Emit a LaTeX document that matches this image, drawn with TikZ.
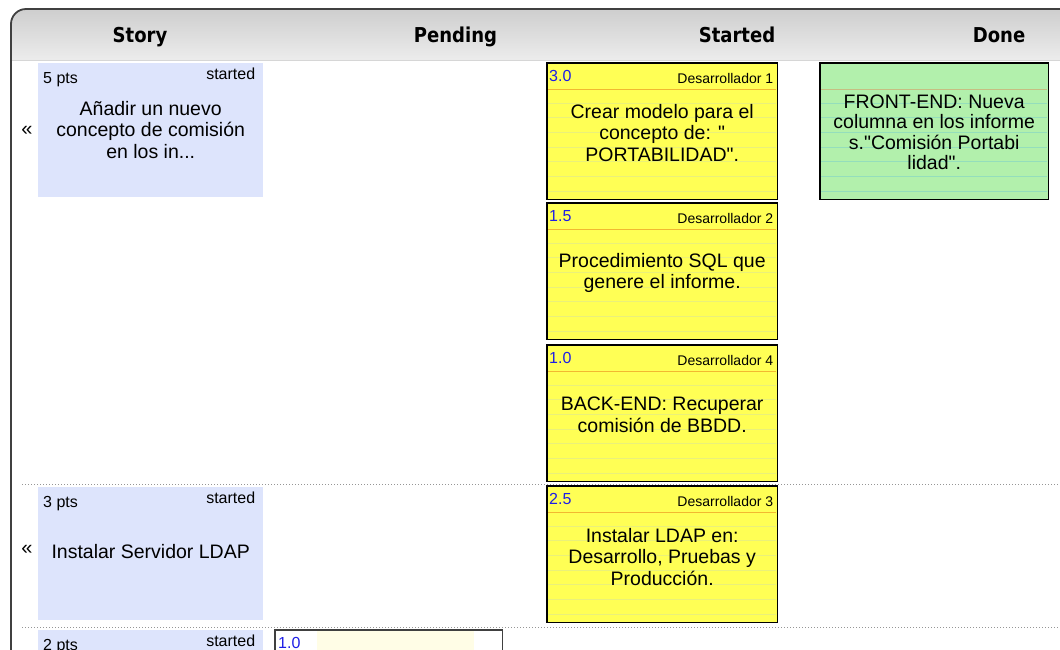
\documentclass[tikz,border=0pt]{standalone}
\usepackage{fontspec}
\setmainfont{Liberation Sans}[Ligatures=TeXOff]
\newfontfamily\hdfont{DejaVu Sans}[FakeStretch=0.88]
\usetikzlibrary{calc}

\definecolor{storyblue}{RGB}{221,228,252}
\definecolor{taskyellow}{RGB}{255,255,85}
\definecolor{donegreen}{RGB}{178,240,172}
\definecolor{yrule}{RGB}{234,240,122}
\definecolor{grule}{RGB}{148,222,188}
\definecolor{hdrule}{RGB}{242,184,48}
\definecolor{ghdrule}{RGB}{198,190,130}
\definecolor{ptsblue}{RGB}{30,30,230}
\definecolor{pendcream}{RGB}{255,253,230}
\definecolor{framegray}{RGB}{64,64,64}
\definecolor{hdtop}{RGB}{206,206,206}
\definecolor{hdbot}{RGB}{236,236,236}
\definecolor{sepgray}{RGB}{150,150,150}

\tikzset{
  bodytext/.style={font=\fontsize{19.5}{21.5}\selectfont, align=center, inner sep=0pt},
  smalltext/.style={font=\fontsize{16}{18}\selectfont, inner sep=0pt},
  ownertext/.style={font=\fontsize{14}{16}\selectfont, inner sep=0pt},
  coltitle/.style={font=\hdfont\bfseries\fontsize{20.5}{22}\selectfont, inner sep=0pt, anchor=base},
  storycard/.style={fill=storyblue, anchor=north west, inner sep=0pt, minimum width=225pt},
  taskbox/.style={anchor=north west, inner sep=0pt, minimum width=230pt, minimum height=136pt},
  donebox/.style={anchor=north west, inner sep=0pt, minimum width=228pt, minimum height=136pt},
  cardedge/.style={draw=black, line width=1.6pt},
  points/.style={smalltext, anchor=base west},
  status/.style={smalltext, anchor=base east},
  estimate/.style={smalltext, text=ptsblue, anchor=base west},
  owner/.style={ownertext, anchor=base east},
  backmark/.style={font=\fontsize{20}{22}\selectfont, inner sep=0pt},
  separator/.style={draw=sepgray, line width=1pt, dotted},
}

% faint notebook lines inside a card, below its header line
\newcommand\ruledcard[3]{%
  \draw[#3, line width=1pt] ($(#1.north west)+(1,26)$) -- ($(#1.north east)+(-1,26)$);
  \foreach \k in {0,...,6}{
    \draw[#2, line width=0.9pt] ($(#1.north west)+(1,40+14.7*\k)$) -- ($(#1.north east)+(-1,40+14.7*\k)$);
  }
  \draw[cardedge] (#1.north west) rectangle (#1.south east);
}

\begin{document}
\begin{tikzpicture}[x=1pt, y=-1pt]
\useasboundingbox (0,0) rectangle (1060,649);
\clip (0,0) rectangle (1060,649);
\fill[white] (0,0) rectangle (1060,649);

% column header band
\shade[top color=hdtop, bottom color=hdbot]
  (11,60) [rounded corners=15pt] -- (11,9) [sharp corners] -- (1060,9) -- (1060,60) -- cycle;
\draw[hdbot!80!gray, line width=0.6pt] (11,60) -- (1060,60);
\draw[framegray, line width=1.8pt, rounded corners=15pt] (11,660) -- (11,9) -- (1062,9);

\node[coltitle] (hstory)   at (140,42)   {Story};
\node[coltitle] (hpending) at (455.5,42) {Pending};
\node[coltitle] (hstarted) at (737,42)   {Started};
\node[coltitle] (hdone)    at (999,42)   {Done};

% row separators
\coordinate (sepAa) at (22,484);  \coordinate (sepAb) at (1060,484);
\coordinate (sepBa) at (22,627);  \coordinate (sepBb) at (1060,627);
\draw[separator] (sepAa) -- (sepAb);
\draw[separator] (sepBa) -- (sepBb);

% ---- story 1 ----
\node[storycard, minimum height=134pt] (s1) at (38,63) {};
\node[points] (s1pts) at ($(s1.north west)+(5,20)$) {5 pts};
\node[status] (s1st)  at ($(s1.north east)+(-8,16)$) {started};
\node[bodytext] (s1txt) at ($(s1.north)+(0,67)$) {Añadir un nuevo\\concepto de comisión\\en los in...};
\node[backmark] (s1back) at (27,131) {«};

% ---- story 2 ----
\node[storycard, minimum height=133pt] (s2) at (38,487) {};
\node[points] (s2pts) at ($(s2.north west)+(5,20)$) {3 pts};
\node[status] (s2st)  at ($(s2.north east)+(-8,16)$) {started};
\node[bodytext] (s2txt) at ($(s2.north)+(0,65)$) {Instalar Servidor LDAP};
\node[backmark] (s2back) at (27,550) {«};

% ---- story 3 (cut off) ----
\node[storycard, minimum height=40pt] (s3) at (38,630) {};
\node[points] (s3pts) at ($(s3.north west)+(5,20)$) {2 pts};
\node[status] (s3st)  at ($(s3.north east)+(-8,16)$) {started};

% pending task of story 3 (cut off)
\node[anchor=north west, inner sep=0pt, minimum width=227pt, minimum height=40pt, fill=white] (p1) at (275,630) {};
\fill[pendcream] (317,631) rectangle (474,660);
\draw[draw=framegray, line width=1.5pt] (p1.north west) rectangle (p1.south east);
\node[estimate] (p1est) at ($(p1.north west)+(3,18)$) {1.0};

% ---- started tasks ----
\node[taskbox, fill=taskyellow] (t1) at (547,63) {};
\ruledcard{t1}{yrule}{hdrule}
\node[estimate] (t1est) at ($(t1.north west)+(2,18)$) {3.0};
\node[owner] (t1dev) at ($(t1.north east)+(-4,20)$) {Desarrollador 1};
\node[bodytext] (t1txt) at ($(t1.north)+(0,70)$) {Crear modelo para el\\concepto de: "\\PORTABILIDAD".};

\node[taskbox, fill=taskyellow] (t2) at (547,203) {};
\ruledcard{t2}{yrule}{hdrule}
\node[estimate] (t2est) at ($(t2.north west)+(2,18)$) {1.5};
\node[owner] (t2dev) at ($(t2.north east)+(-4,20)$) {Desarrollador 2};
\node[bodytext] (t2txt) at ($(t2.north)+(0,70)$) {Procedimiento SQL que\\genere el informe.};

\node[taskbox, fill=taskyellow] (t3) at (547,345) {};
\ruledcard{t3}{yrule}{hdrule}
\node[estimate] (t3est) at ($(t3.north west)+(2,18)$) {1.0};
\node[owner] (t3dev) at ($(t3.north east)+(-4,20)$) {Desarrollador 4};
\node[bodytext] (t3txt) at ($(t3.north)+(0,70)$) {BACK-END: Recuperar\\comisión de BBDD.};

\node[taskbox, fill=taskyellow] (t4) at (547,486) {};
\ruledcard{t4}{yrule}{hdrule}
\node[estimate] (t4est) at ($(t4.north west)+(2,18)$) {2.5};
\node[owner] (t4dev) at ($(t4.north east)+(-4,20)$) {Desarrollador 3};
\node[bodytext] (t4txt) at ($(t4.north)+(0,71)$) {Instalar LDAP en:\\Desarrollo, Pruebas y\\Producción.};

% ---- done task ----
\node[donebox, fill=donegreen] (d1) at (820,63) {};
\ruledcard{d1}{grule}{ghdrule}
\node[bodytext, font=\fontsize{19.5}{20.5}\selectfont] (d1txt) at ($(d1.north)+(0,69.5)$)
  {FRONT-END: Nueva\\columna en los informe\\s."Comisión Portabi\\lidad".};
\end{tikzpicture}
\end{document}
